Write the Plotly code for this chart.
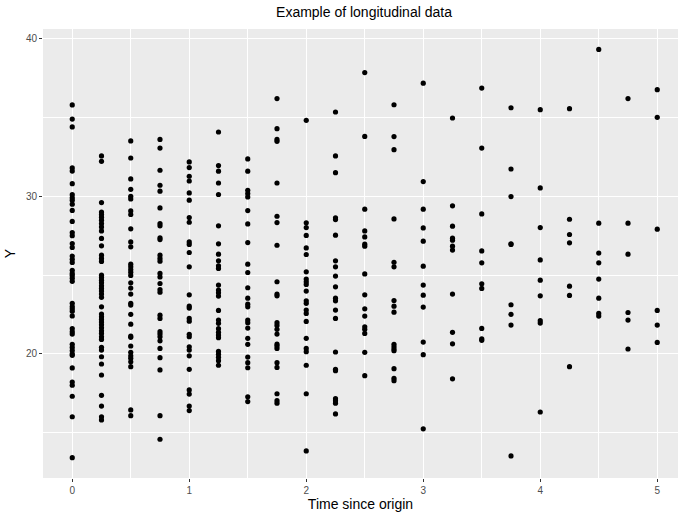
import plotly.graph_objects as go

times = [0, 0.25, 0.5, 0.75, 1, 1.25, 1.5, 1.75, 2, 2.25, 2.5, 2.75,
         3, 3.25, 3.5, 3.75, 4, 4.25, 4.5, 4.75, 5]

y_t000 = [35.8, 34.9, 34.4, 31.8, 31.6, 30.8, 30.1, 29.9, 29.75, 29.5, 29.1, 28.4,
          27.7, 27.5, 27.0, 26.75, 26.2, 26.0, 25.8, 25.3, 25.1, 24.97, 24.8, 24.6,
          23.2, 23.0, 22.85, 22.7, 22.4, 21.6, 21.4, 21.25, 20.6, 20.4, 20.2, 20.0,
          19.9, 19.1, 18.2, 18.0, 17.3, 16.0, 13.4]
y_t025 = [32.56, 32.22, 29.6, 29.0, 28.84, 28.67, 28.48, 28.27, 28.05, 27.8, 27.32,
          26.85, 26.26, 26.05, 25.86, 24.99, 24.84, 24.67, 24.5, 24.31, 24.15, 23.98,
          23.79, 23.58, 22.98, 22.52, 22.35, 22.18, 22.01, 21.84, 21.65, 21.46, 21.29,
          21.08, 20.91, 20.41, 20.23, 19.81, 19.35, 18.65, 17.36, 16.68, 16.0, 15.8]
y_t050 = [33.51, 32.43, 31.1, 30.44, 30.0, 29.83, 29.07, 28.84, 27.93, 27.1, 26.79,
          25.69, 25.52, 25.35, 25.18, 24.97, 24.5, 24.17, 23.79, 23.2, 23.09, 22.5,
          21.88, 21.12, 21.04, 20.49, 20.09, 19.87, 19.71, 19.49, 19.18, 16.43, 16.07]
y_t075 = [33.61, 33.06, 31.65, 30.7, 30.32, 29.26, 28.27, 28.12, 27.36, 27.25, 26.26,
          26.05, 25.88, 25.1, 24.88, 24.46, 24.08, 23.91, 22.45, 22.24, 21.4, 21.25,
          21.08, 20.82, 20.34, 19.75, 18.97, 16.07, 14.57]
y_t100 = [32.18, 31.82, 31.27, 30.97, 30.21, 29.75, 28.65, 28.35, 27.1, 26.94, 26.43,
          25.52, 23.74, 23.02, 22.9, 22.24, 22.07, 21.23, 21.08, 20.44, 20.23, 19.87,
          19.01, 17.7, 17.44, 16.68, 16.39]
y_t125 = [34.08, 31.95, 31.59, 30.84, 30.11, 28.12, 26.98, 26.32, 25.9, 25.58, 25.42,
          24.36, 24.04, 23.87, 23.66, 22.75, 22.14, 21.93, 21.59, 21.36, 21.19, 21.02,
          20.15, 19.96, 19.77, 19.56, 19.27]
y_t150 = [32.37, 31.59, 30.38, 30.17, 29.96, 29.09, 28.24, 27.06, 25.69, 25.16, 24.19,
          23.53, 23.15, 22.98, 22.14, 21.97, 21.63, 20.98, 20.6, 19.79, 19.43, 19.11,
          17.27, 16.96]
y_t175 = [36.2, 34.29, 33.61, 33.49, 30.84, 28.73, 28.33, 26.89, 24.57, 23.79, 23.68,
          21.97, 21.8, 21.55, 21.25, 20.61, 20.49, 20.34, 19.43, 19.13, 17.46, 17.02,
          16.86]
y_t200 = [34.82, 28.31, 28.01, 27.51, 26.72, 26.3, 25.2, 24.74, 24.57, 24.4, 23.98,
          23.36, 23.2, 22.77, 22.56, 22.05, 20.98, 20.34, 20.13, 19.27, 17.46, 13.83]
y_t225 = [35.35, 32.56, 31.5, 28.63, 28.52, 27.53, 25.9, 25.52, 24.93, 24.25, 23.53,
          23.36, 22.77, 22.24, 20.11, 19.01, 18.92, 17.15, 17.02, 16.86, 16.18]
y_t250 = [37.85, 33.8, 29.18, 27.8, 27.42, 26.96, 26.83, 25.07, 23.74, 22.85, 22.39,
          21.71, 21.55, 21.29, 20.09, 18.61]
y_t275 = [35.81, 33.79, 32.96, 28.56, 25.81, 25.52, 23.38, 23.02, 22.64, 20.6, 20.44,
          20.3, 20.19, 19.05, 18.44, 18.29]
y_t300 = [37.18, 30.93, 29.18, 27.99, 27.15, 25.56, 24.36, 23.72, 22.96, 20.74, 19.94,
          15.23]
y_t325 = [34.97, 29.39, 28.1, 27.34, 27.21, 26.83, 26.58, 23.79, 21.36, 20.63, 18.41]
y_t350 = [36.87, 33.06, 28.88, 26.53, 25.77, 24.44, 24.15, 21.61, 20.95, 20.85]
y_t375 = [35.62, 31.73, 29.98, 26.94, 26.98, 23.11, 22.5, 21.82, 13.51]
y_t400 = [35.5, 30.53, 28.01, 25.96, 24.67, 23.68, 22.1, 21.95, 16.3]
y_t425 = [35.56, 28.54, 27.57, 27.04, 24.29, 23.7, 19.18]
y_t450 = [39.32, 28.29, 26.39, 25.77, 24.74, 23.53, 22.56, 22.39]
y_t475 = [36.2, 28.29, 26.32, 22.62, 22.14, 20.3]
y_t500 = [36.77, 35.01, 27.91, 22.75, 21.82, 20.72]

columns = [y_t000, y_t025, y_t050, y_t075, y_t100, y_t125, y_t150, y_t175, y_t200,
           y_t225, y_t250, y_t275, y_t300, y_t325, y_t350, y_t375, y_t400, y_t425,
           y_t450, y_t475, y_t500]

xs, ys = [], []
for t, col in zip(times, columns):
    for v in col:
        xs.append(t)
        ys.append(v)

x_ticks = [0, 1, 2, 3, 4, 5]
y_ticks = [20, 30, 40]

W, H = 678, 514
ML, MR, MT, MB = 43, 0, 28.5, 36
unit = 117.0
x_lo = -0.25
x_hi = x_lo + (W - ML - MR) / unit

fig = go.Figure(go.Scatter(
    x=xs, y=ys, mode="markers",
    marker=dict(color="black", size=5.2, line=dict(width=0)),
    hoverinfo="x+y", showlegend=False))

font = "Liberation Sans, Arial, Helvetica, sans-serif"
axis_common = dict(
    showgrid=True, gridcolor="white", gridwidth=1.1,
    zeroline=False, showline=False,
    ticks="outside", ticklen=3, tickwidth=1, tickcolor="#333333",
    tickfont=dict(family=font, size=10, color="#4D4D4D"),
)

fig.update_layout(
    width=W, height=H,
    margin=dict(l=ML, r=MR, t=MT, b=MB, pad=0),
    paper_bgcolor="white", plot_bgcolor="#EBEBEB",
    font=dict(family=font),
    title=dict(text="Example of longitudinal data", x=364 / W, xref="container",
               xanchor="center", y=1 - 12 / H, yref="container", yanchor="middle",
               font=dict(family=font, size=14, color="black")),
    xaxis=dict(range=[x_lo, x_hi], tickvals=x_ticks,
               ticktext=[str(v) for v in x_ticks],
               minor=dict(showgrid=True, gridcolor="white", gridwidth=0.55,
                          tickvals=[0.5, 1.5, 2.5, 3.5, 4.5], ticks=""),
               title=dict(text="Time since origin", standoff=4,
                          font=dict(family=font, size=14, color="black")),
               **axis_common),
    yaxis=dict(range=[12.11, 40.62], tickvals=y_ticks,
               ticktext=[str(v) for v in y_ticks],
               minor=dict(showgrid=True, gridcolor="white", gridwidth=0.55,
                          tickvals=[15, 25, 35], ticks=""),
               title=dict(text="Y", standoff=6,
                          font=dict(family=font, size=14, color="black")),
               **axis_common),
)

fig.write_html("out.html")
